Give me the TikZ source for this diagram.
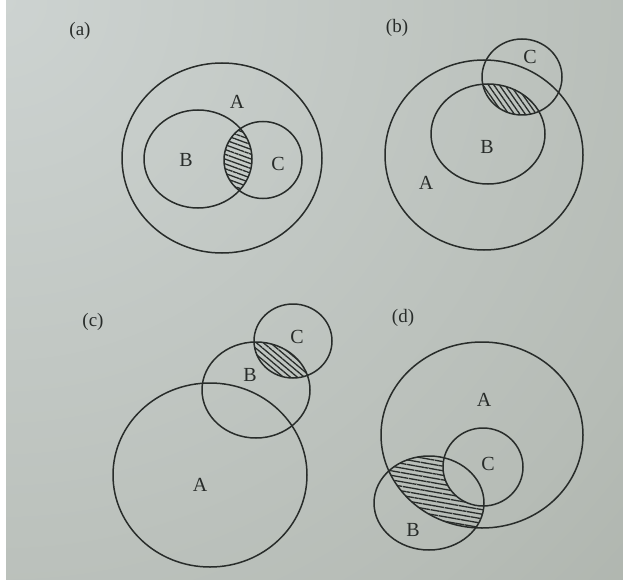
\documentclass[tikz,border=0pt]{standalone}
\usepackage{fontspec}
\setmainfont{Liberation Serif}
\usetikzlibrary{patterns.meta}
\definecolor{ink}{RGB}{40,44,42}
\definecolor{bgA}{RGB}{205,211,209}
\definecolor{bgB}{RGB}{182,188,182}
\definecolor{bgC}{RGB}{162,168,160}
\definecolor{bgD}{RGB}{128,138,128}
\definecolor{bgE}{RGB}{88,98,88}
\definecolor{bgF}{RGB}{76,86,76}
\pgfdeclareradialshading{paper}{\pgfpoint{0bp}{0bp}}{color(0bp)=(bgA); color(20bp)=(bgB); color(33bp)=(bgC); color(40bp)=(bgD); color(47bp)=(bgE); color(50bp)=(bgF)}
\begin{document}
\begin{tikzpicture}[x=1pt,y=-1pt,
  ring/.style={draw=ink,line width=1.5pt},
  lbl/.style={text=ink,font=\fontsize{20}{22}\selectfont,inner sep=0pt},
  tag/.style={text=ink,font=\fontsize{19}{21}\selectfont,inner sep=0pt},
  hatch/.style={pattern={Lines[angle=#1,distance=4.5pt,line width=1.3pt]},pattern color=ink}]
\useasboundingbox (0,0) rectangle (623,580);
\begin{scope}
  \clip (0,0) rectangle (623,580);
  \shade[shading=paper] (0,0) circle (900);
\end{scope}
\fill[white] (0,0) rectangle (6,580);

% ---------- (a) ----------
\coordinate (aA) at (222,158);
\coordinate (aB) at (198,159);
\coordinate (aC) at (263,160);
\begin{scope}
  \clip (aB) ellipse [x radius=54, y radius=49];
  \fill[hatch=-20] (aC) ellipse [x radius=39, y radius=38.5];
\end{scope}
\draw[ring] (aA) ellipse [x radius=100, y radius=95];
\draw[ring] (aB) ellipse [x radius=54, y radius=49];
\draw[ring] (aC) ellipse [x radius=39, y radius=38.5];
\node[tag] (ta) at (80,31) {(a)};
\node[lbl] (laA) at (237,102) {A};
\node[lbl] (laB) at (186,160) {B};
\node[lbl] (laC) at (278,164) {C};

% ---------- (b) ----------
\coordinate (bA) at (484,155);
\coordinate (bB) at (488,134);
\coordinate (bC) at (522,77);
\begin{scope}
  \clip (bB) ellipse [x radius=57, y radius=50];
  \fill[hatch=-55] (bC) ellipse [x radius=40, y radius=38];
\end{scope}
\draw[ring] (bA) ellipse [x radius=99, y radius=95];
\draw[ring] (bB) ellipse [x radius=57, y radius=50];
\draw[ring] (bC) ellipse [x radius=40, y radius=38];
\node[tag] (tb) at (397,28) {(b)};
\node[lbl] (lbC) at (530,57) {C};
\node[lbl] (lbB) at (487,147) {B};
\node[lbl] (lbA) at (426,183) {A};

% ---------- (c) ----------
\coordinate (cA) at (210,475);
\coordinate (cB) at (256,390);
\coordinate (cC) at (293,341);
\begin{scope}
  \clip (cB) ellipse [x radius=54, y radius=48];
  \fill[hatch=-40] (cC) ellipse [x radius=39, y radius=37];
\end{scope}
\draw[ring] (cA) ellipse [x radius=97, y radius=92];
\draw[ring] (cB) ellipse [x radius=54, y radius=48];
\draw[ring] (cC) ellipse [x radius=39, y radius=37];
\node[tag] (tc) at (93,322) {(c)};
\node[lbl] (lcC) at (297,337) {C};
\node[lbl] (lcB) at (250,375) {B};
\node[lbl] (lcA) at (200,485) {A};

% ---------- (d) ----------
\coordinate (dA) at (482,435);
\coordinate (dB) at (429,503);
\coordinate (dC) at (483,467);
\begin{scope}
  \clip (dA) ellipse [x radius=101, y radius=93];
  \clip (dB) ellipse [x radius=55, y radius=47];
  \fill[hatch=-10,even odd rule] (dB) ellipse [x radius=55, y radius=47]
        (dC) ellipse [x radius=40, y radius=39];
\end{scope}
\draw[ring] (dA) ellipse [x radius=101, y radius=93];
\draw[ring] (dB) ellipse [x radius=55, y radius=47];
\draw[ring] (dC) ellipse [x radius=40, y radius=39];
\node[tag] (td) at (403,318) {(d)};
\node[lbl] (ldA) at (484,400) {A};
\node[lbl] (ldC) at (488,464) {C};
\node[lbl] (ldB) at (413,530) {B};
\end{tikzpicture}
\end{document}
